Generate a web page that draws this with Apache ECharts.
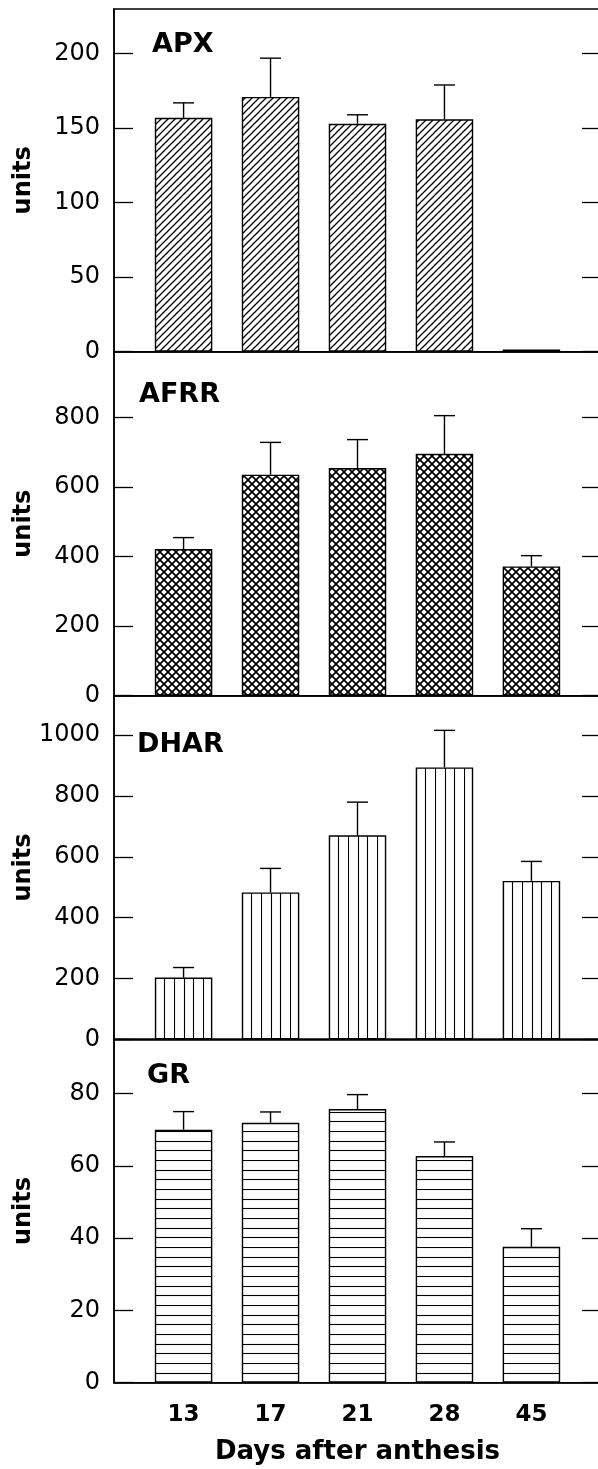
<!DOCTYPE html>
<html><head><meta charset="utf-8">
<script src="https://cdn.jsdelivr.net/npm/echarts@6/dist/echarts.min.js"></script>
<style>html,body{margin:0;padding:0;background:#fff}#c{width:598px;height:1469px}</style>
</head><body><div id="c"></div>
<script>
// ---- data ----
const categories = ['13', '17', '21', '28', '45'];
const panelNames = ['APX', 'AFRR', 'DHAR', 'GR'];
const apxValues  = [157, 171, 153, 156, 1.5];
const apxErrors  = [10, 26, 6, 23, 0];
const afrrValues = [422, 636, 655, 696, 372];
const afrrErrors = [33, 93, 82, 110, 31];
const dharValues = [203, 483, 671, 894, 521];
const dharErrors = [33, 79, 109, 122, 64];
const grValues   = [70.0, 71.9, 75.7, 62.7, 37.6];
const grErrors   = [5.0, 3.0, 4.0, 3.9, 5.0];
const apxTicks  = [0, 50, 100, 150, 200];
const afrrTicks = [0, 200, 400, 600, 800];
const dharTicks = [0, 200, 400, 600, 800, 1000];
const grTicks   = [0, 20, 40, 60, 80];
const apxMax = 230, afrrMax = 990, dharMax = 1130, grMax = 95;
const yTitle = 'units';
const xTitle = 'Days after anthesis';

// ---- patterns ----
function makePattern(kind) {
  const c = document.createElement('canvas');
  let w, h;
  if (kind === 'diag') { w = h = 7; }
  else if (kind === 'cross') { w = h = 8; }
  else if (kind === 'vert') { w = 29; h = 4; }
  else { w = 4; h = 29; }
  c.width = w; c.height = h;
  const ctx = c.getContext('2d');
  ctx.fillStyle = '#fff'; ctx.fillRect(0, 0, w, h);
  ctx.strokeStyle = '#000';
  if (kind === 'diag') {
    ctx.lineWidth = 1.25;
    for (const o of [-w, 0, w]) {
      ctx.beginPath(); ctx.moveTo(o - 1, h + 1); ctx.lineTo(o + w + 1, -1); ctx.stroke();
    }
  } else if (kind === 'cross') {
    ctx.lineWidth = 1.7;
    for (const o of [-w, 0, w]) {
      ctx.beginPath(); ctx.moveTo(o - 1, h + 1); ctx.lineTo(o + w + 1, -1); ctx.stroke();
      ctx.beginPath(); ctx.moveTo(o - 1, -1); ctx.lineTo(o + w + 1, h + 1); ctx.stroke();
    }
  } else if (kind === 'vert') {
    ctx.lineWidth = 1.1;
    for (const x of [0.5, 10.5, 19.5]) { ctx.beginPath(); ctx.moveTo(x, 0); ctx.lineTo(x, h); ctx.stroke(); }
  } else {
    ctx.lineWidth = 1.1;
    for (const y of [0.5, 10.5, 19.5]) { ctx.beginPath(); ctx.moveTo(0, y); ctx.lineTo(w, y); ctx.stroke(); }
  }
  return { image: c, repeat: 'repeat' };
}

const panels = [
  { values: apxValues,  errors: apxErrors,  ticks: apxTicks,  max: apxMax,  pattern: 'diag',  top: 9,     height: 342.7, titleX: 152, titleY: 45 },
  { values: afrrValues, errors: afrrErrors, ticks: afrrTicks, max: afrrMax, pattern: 'cross', top: 351.7, height: 344,   titleX: 139, titleY: 395 },
  { values: dharValues, errors: dharErrors, ticks: dharTicks, max: dharMax, pattern: 'vert',  top: 695.7, height: 343.6, titleX: 137, titleY: 745 },
  { values: grValues,   errors: grErrors,   ticks: grTicks,   max: grMax,   pattern: 'horiz', top: 1039.3, height: 343.4, titleX: 147, titleY: 1076 }
];

const FONT = '"DejaVu Sans", "Liberation Sans", sans-serif';
const grids = [], xAxes = [], yAxes = [], series = [], graphics = [];
const xIdx = categories.map((_, i) => i);

panels.forEach((p, gi) => {
  grids.push({ left: 114, width: 487, top: p.top, height: p.height, containLabel: false, outerBoundsMode: 'none',
    show: true, borderColor: '#000', borderWidth: 1.5, backgroundColor: 'transparent' });
  const last = gi === panels.length - 1;
  xAxes.push({
    gridIndex: gi, type: 'value', min: -0.8, max: 4.8,
    axisLine: { show: true, onZero: false, lineStyle: { color: '#000', width: 1.5 } },
    axisTick: { show: false }, splitLine: { show: false },
    axisLabel: last ? { show: true, customValues: xIdx, formatter: v => categories[Math.round(v)],
      fontFamily: FONT, fontWeight: 'bold', fontSize: 23, color: '#000', margin: 21 } : { show: false },
    name: last ? xTitle : '', nameLocation: 'middle', nameGap: 57, nameMoveOverlap: false,
    nameTextStyle: { fontFamily: FONT, fontWeight: 'bold', fontSize: 26, color: '#000' }
  });
  yAxes.push({
    gridIndex: gi, type: 'value', min: 0, max: p.max, position: 'left',
    axisLine: { show: true, onZero: false, lineStyle: { color: '#000', width: 1.5 } },
    axisTick: { show: true, inside: true, length: 19, customValues: p.ticks, lineStyle: { color: '#000', width: 1.3 } },
    axisLabel: { customValues: p.ticks, formatter: v => String(v), fontFamily: FONT, fontSize: 24, color: '#000', margin: 14 },
    splitLine: { show: false },
    name: yTitle, nameLocation: 'middle', nameGap: 78, nameMoveOverlap: false,
    nameTextStyle: { fontFamily: FONT, fontWeight: 'bold', fontSize: 24, color: '#000' }
  });
  yAxes.push({
    gridIndex: gi, type: 'value', min: 0, max: p.max, position: 'right',
    axisLine: { show: true, onZero: false, lineStyle: { color: '#000', width: 1.5 } },
    axisTick: { show: true, inside: true, length: 19, customValues: p.ticks, lineStyle: { color: '#000', width: 1.3 } },
    axisLabel: { show: false }, splitLine: { show: false }
  });
  const data = p.values.map((v, i) => [i, v]);
  series.push({
    type: 'bar', xAxisIndex: gi, yAxisIndex: gi * 2, data: data, barWidth: 57.5,
    itemStyle: { color: makePattern(p.pattern), borderColor: '#000', borderWidth: 1.4 },
    silent: true, animation: false
  });
  series.push({
    type: 'custom', xAxisIndex: gi, yAxisIndex: gi * 2, z: 5,
    data: p.values.map((v, i) => [i, v, p.errors[i]]),
    renderItem: function (params, api) {
      const x = api.value(0), v = api.value(1), e = api.value(2);
      if (!(e > 0)) return null;
      const p0 = api.coord([x, v]), p1 = api.coord([x, v + e]);
      const hw = 10.5;
      return { type: 'group', children: [
        { type: 'line', shape: { x1: p0[0], y1: p0[1], x2: p1[0], y2: p1[1] }, style: { stroke: '#000', lineWidth: 1.4 } },
        { type: 'line', shape: { x1: p1[0] - hw, y1: p1[1], x2: p1[0] + hw, y2: p1[1] }, style: { stroke: '#000', lineWidth: 1.4 } }
      ] };
    },
    silent: true, animation: false
  });
  graphics.push({ type: 'text', x: p.titleX, y: p.titleY, z: 10,
    style: { text: panelNames[gi], font: 'bold 27px ' + FONT, fill: '#000', align: 'left', verticalAlign: 'middle' } });
});

const chart = echarts.init(document.getElementById('c'), null, { renderer: 'canvas' });
chart.setOption({
  animation: false, backgroundColor: '#fff',
  grid: grids, xAxis: xAxes, yAxis: yAxes, series: series, graphic: graphics
});
</script>
</body></html>
